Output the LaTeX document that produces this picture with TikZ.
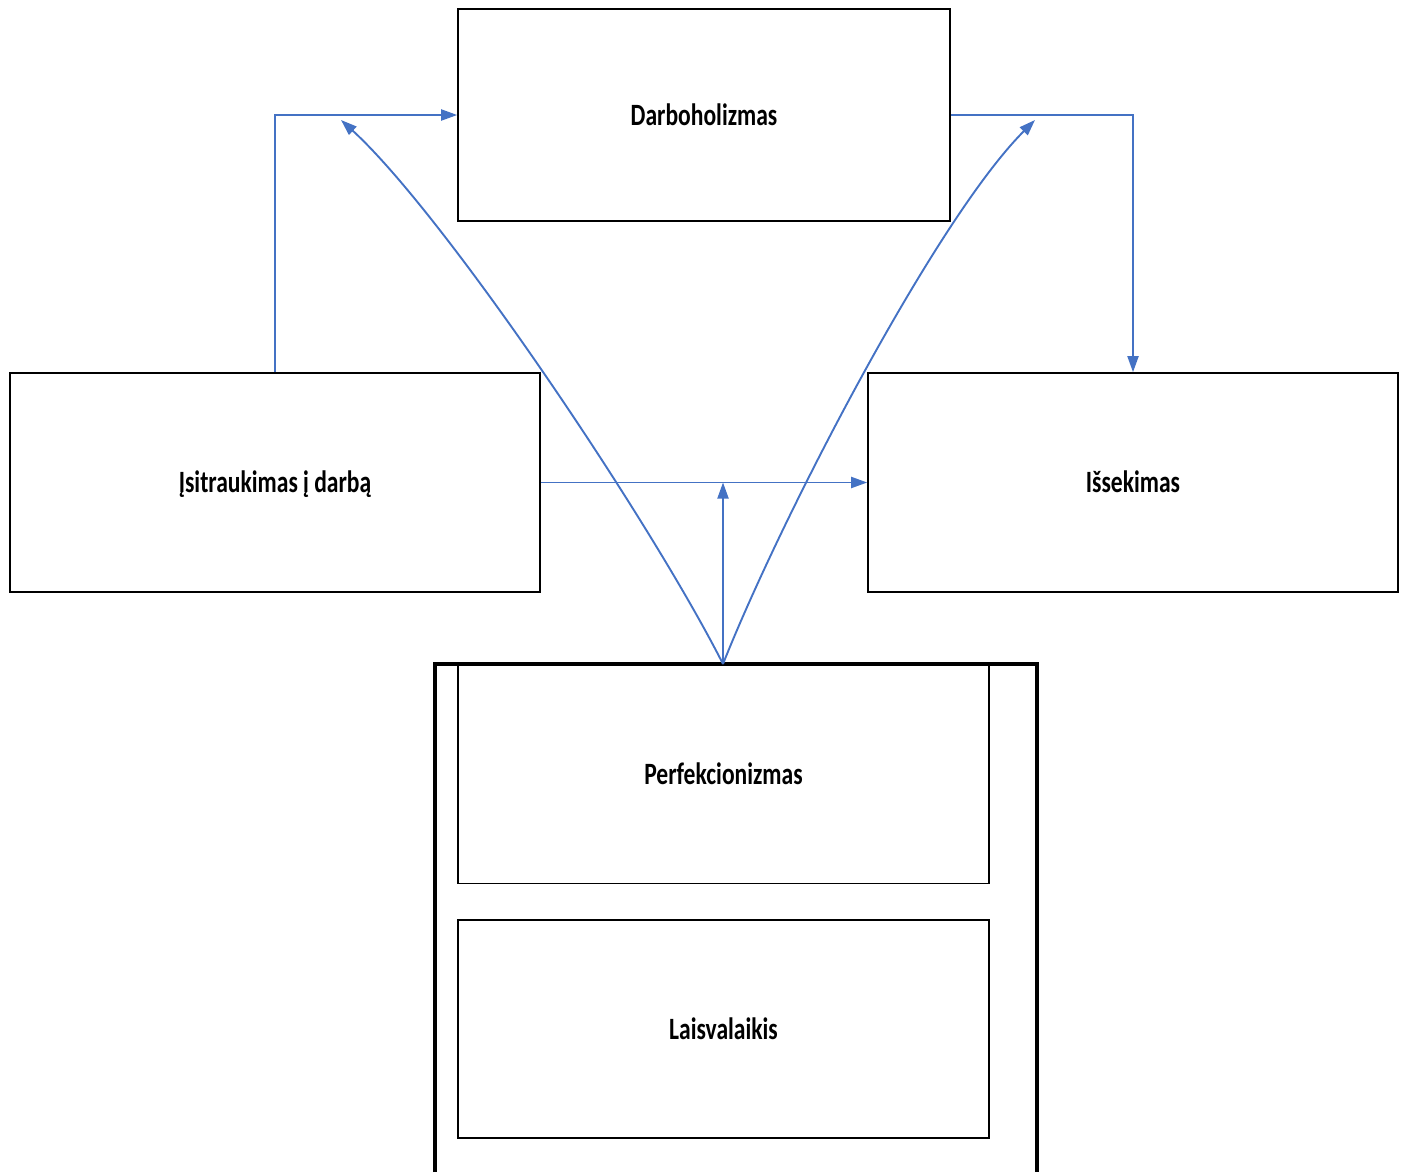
\documentclass[tikz,border=0pt]{standalone}
\usepackage{fontspec}
\usepackage{graphicx}
\setmainfont{Carlito}
\usetikzlibrary{arrows.meta}
\definecolor{conn}{HTML}{4472C4}
\newcommand\boxlbl[1]{\scalebox{0.76}[1]{#1}}
\tikzset{
  box/.style={draw=black, line width=1.6pt, fill=white, inner sep=0pt,
    text height=20pt, text depth=0pt,
    font=\fontsize{31}{36}\selectfont\bfseries},
  conline/.style={draw=conn, line width=1.9pt, -{Triangle[length=16pt,width=11pt]}},
}
\begin{document}
\begin{tikzpicture}[x=1pt,y=-1pt]
\useasboundingbox (0,0) rectangle (1407,1172);
% outer frame
\draw[line width=3.6pt] (435,1172) -- (435,664) -- (1037,664) -- (1037,1172);
\node[box, minimum width=492pt, minimum height=212pt] (darb) at (704,115) {\boxlbl{Darboholizmas}};
\node[box, minimum width=530pt, minimum height=219pt] (isit) at (275,482.5) {\boxlbl{Įsitraukimas į darbą}};
\node[box, minimum width=530pt, minimum height=219pt] (isse) at (1133,482.5) {\boxlbl{Išsekimas}};
\node[box, minimum width=531pt, minimum height=218pt] (perf) at (723.5,774.5) {\boxlbl{Perfekcionizmas}};
\node[box, minimum width=531pt, minimum height=218pt] (lais) at (723.5,1029) {\boxlbl{Laisvalaikis}};
\draw[line width=3.6pt] (435,664) -- (1037,664);
\coordinate (src) at (723,664);
\coordinate (tipL) at (341,120);
\coordinate (tipR) at (1035,120);
\draw[conline] (isit.north) |- (darb.west);
\draw[conline] (darb.east) -| (isse.north);
\draw[conline] (isit.east) -- (isse.west);
\draw[conline] (src) -- (src |- isit.east);
\draw[conline] (src) .. controls (650,520) and (445,215) .. (tipL);
\draw[conline] (src) .. controls (780,520) and (935,220) .. (tipR);
\end{tikzpicture}
\end{document}
